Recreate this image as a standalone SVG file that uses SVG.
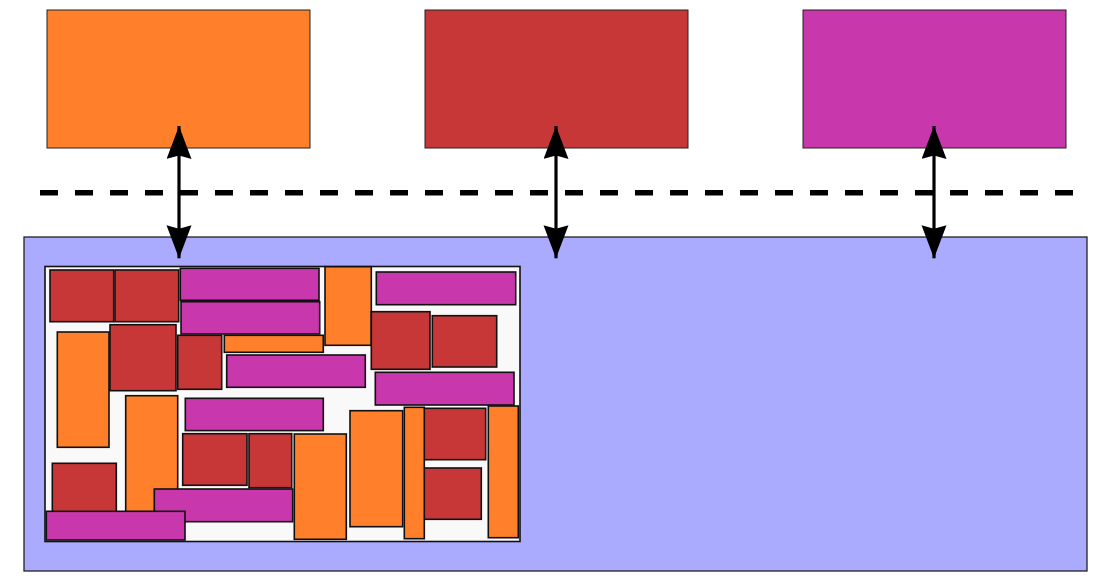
<svg xmlns="http://www.w3.org/2000/svg" width="1104" height="586" viewBox="0 0 1104 586">
<style>
.o{fill:#ff7f2a}.r{fill:#c83737}.m{fill:#c837ab}
.top{stroke:#222;stroke-width:1}
.blk rect{stroke:#111;stroke-width:1.6}
</style>
<defs>
<marker id="ah" markerUnits="userSpaceOnUse" markerWidth="34" markerHeight="26" refX="33" refY="12.5" orient="auto-start-reverse" viewBox="0 0 34 26">
<path d="M0,0 L33,12.5 L0,25 L3.5,12.5 Z" fill="#000"/>
</marker>
</defs>
<rect width="1104" height="586" fill="#fff"/>
<g id="box-orange"><rect class="o top" x="47" y="10" width="263" height="138"/></g>
<g id="box-red"><rect class="r top" x="425" y="10" width="263" height="138"/></g>
<g id="box-magenta"><rect class="m top" x="803" y="10" width="263" height="138"/></g>
<g id="divider"><line x1="40" y1="192.8" x2="1080" y2="192.8" stroke="#000" stroke-width="5.5" stroke-dasharray="18 17"/></g>
<g id="container"><rect x="24" y="237" width="1063" height="334" fill="#aaaaff" stroke="#222" stroke-width="1.3"/></g>
<g id="panel">
<rect x="45" y="266.5" width="475" height="275" fill="#f9f9f9" stroke="#111" stroke-width="1.6"/>
<g class="blk">
<rect class="r" x="50" y="270" width="63.7" height="51.7"/>
<rect class="r" x="115" y="270" width="63.7" height="51.7"/>
<rect class="m" x="180.3" y="268.3" width="138.7" height="32"/>
<rect class="m" x="181" y="301.7" width="138.7" height="32.3"/>
<rect class="o" x="224.3" y="335.3" width="99" height="17"/>
<rect class="m" x="226.7" y="355" width="138.6" height="32.3"/>
<rect class="r" x="110" y="324.7" width="66" height="66"/>
<rect class="r" x="177.7" y="335.3" width="44" height="54"/>
<rect class="o" x="57.3" y="332" width="51.7" height="115.3"/>
<rect class="o" x="125.7" y="395.7" width="52" height="116"/>
<rect class="m" x="185.3" y="398.3" width="138" height="32.3"/>
<rect class="o" x="325" y="266.7" width="46.3" height="78.6"/>
<rect class="m" x="376.3" y="272" width="139.4" height="32.7"/>
<rect class="r" x="371.3" y="311.7" width="58.7" height="57.6"/>
<rect class="r" x="432.3" y="315.7" width="64.4" height="51.3"/>
<rect class="m" x="375.3" y="372.3" width="138.7" height="32.7"/>
<rect class="r" x="52.3" y="463.3" width="64" height="50"/>
<rect class="m" x="154.3" y="489" width="138.4" height="32.7"/>
<rect class="m" x="46.3" y="511.3" width="138.7" height="28.7"/>
<rect class="r" x="182.7" y="433.7" width="64.3" height="51.6"/>
<rect class="r" x="249" y="433.7" width="42.7" height="54"/>
<rect class="o" x="294.3" y="434" width="52" height="105.3"/>
<rect class="o" x="350" y="410.7" width="52.7" height="116"/>
<rect class="r" x="422.7" y="408.3" width="63" height="51.4"/>
<rect class="r" x="422.7" y="468" width="58.6" height="51.3"/>
<rect class="o" x="404.3" y="407.3" width="20" height="131.4"/>
<rect class="o" x="488.3" y="406" width="30" height="131.7"/>
</g>
</g>
<g id="connectors" stroke="#000" stroke-width="3.2" fill="none">
<line x1="179" y1="126" x2="179" y2="258.3" marker-start="url(#ah)" marker-end="url(#ah)"/>
<line x1="556" y1="126" x2="556" y2="258.3" marker-start="url(#ah)" marker-end="url(#ah)"/>
<line x1="934" y1="126" x2="934" y2="258.3" marker-start="url(#ah)" marker-end="url(#ah)"/>
</g>
</svg>
